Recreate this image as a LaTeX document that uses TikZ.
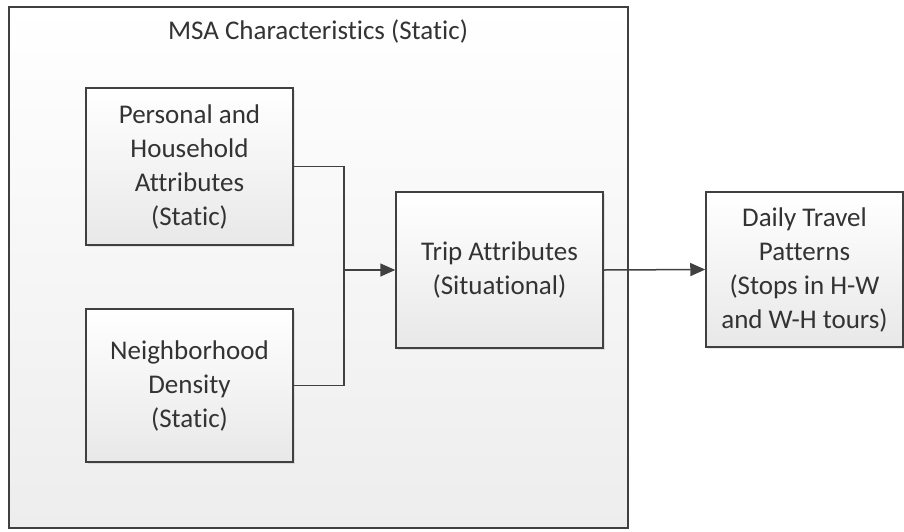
\documentclass[tikz,border=0pt]{standalone}
\usepackage{fontspec}
\setmainfont{Carlito}[RawFeature={-liga;-clig;-calt;-dlig}]
\usetikzlibrary{arrows.meta,shadows}
\definecolor{lineg}{HTML}{404040}
\definecolor{textg}{HTML}{333333}
\definecolor{boxbot}{HTML}{E8E8E8}
\definecolor{outbot}{HTML}{EDEDED}
\tikzset{
  box/.style={draw=lineg, line width=1.5pt, top color=white, bottom color=boxbot,
    align=center, text=textg, font=\fontsize{27}{34}\selectfont, inner sep=0pt,
    drop shadow={opacity=0.18, shadow xshift=2pt, shadow yshift=-2pt}},
  conn/.style={draw=lineg, line width=1.5pt},
  arr/.style={conn, -{Triangle[length=15pt,width=13pt]}},
}
\begin{document}
\begin{tikzpicture}[x=1pt,y=-1pt]
\useasboundingbox (0,0) rectangle (904,531);
\node[draw=lineg, line width=1.5pt, top color=white, bottom color=outbot,
  minimum width=619pt, minimum height=521pt, inner sep=0pt] (msa) at (318.5,267.5) {};
\node[text=textg, font=\fontsize{27}{34}\selectfont] (title) at (318,31) {MSA Characteristics (Static)};
\node[box, minimum width=207pt, minimum height=157pt] (pers) at (189.5,166.5)
  {Personal and\\Household\\Attributes\\(Static)};
\node[box, minimum width=207pt, minimum height=153pt] (neigh) at (189.5,385.5)
  {Neighborhood\\Density\\(Static)};
\node[box, minimum width=207pt, minimum height=156pt] (trip) at (499.5,270)
  {Trip Attributes\\(Situational)};
\node[box, minimum width=197pt, minimum height=155pt] (daily) at (804.5,269.5)
  {Daily Travel\\Patterns\\(Stops in H-W\\and W-H tours)};
\coordinate (j) at (344,270);
\draw[conn] (pers.east) -| (j);
\draw[conn] (neigh.east) -| (j);
\draw[arr] (j) -- (trip.west);
\draw[arr] (trip.east) -- (daily.west);
\end{tikzpicture}
\end{document}
